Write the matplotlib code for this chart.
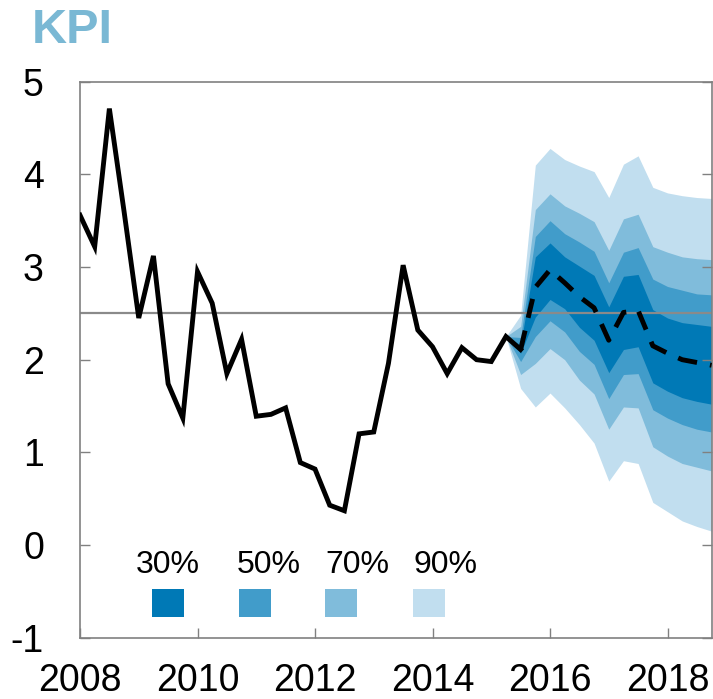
import numpy as np
import matplotlib
matplotlib.use("Agg")
import matplotlib.pyplot as plt

plt.rcParams['font.family'] = ['Liberation Sans', 'DejaVu Sans']

# quarterly CPI (KPI), 2008 Q1 - 2015 Q3
hist_start = 2008.0
kpi_hist = [3.56, 3.22, 4.71, 3.60,
            2.45, 3.12, 1.74, 1.37,
            2.95, 2.61, 1.85, 2.22,
            1.39, 1.41, 1.48, 0.89,
            0.82, 0.43, 0.37, 1.20,
            1.22, 1.96, 3.02, 2.32,
            2.14, 1.85, 2.13, 2.00,
            1.98, 2.25, 2.11]

# fan chart, 2015 Q2 - 2018 Q4
fan_start = 2015.25
upper90 = [2.25, 2.48, 4.10, 4.28, 4.16, 4.09, 4.03, 3.75, 4.11, 4.20, 3.86, 3.80, 3.77, 3.75, 3.74]
upper70 = [2.25, 2.36, 3.62, 3.79, 3.66, 3.58, 3.49, 3.18, 3.52, 3.57, 3.22, 3.16, 3.11, 3.09, 3.08]
upper50 = [2.25, 2.24, 3.33, 3.50, 3.36, 3.27, 3.17, 2.83, 3.16, 3.21, 2.87, 2.79, 2.75, 2.71, 2.70]
upper30 = [2.25, 2.16, 3.11, 3.26, 3.11, 3.01, 2.91, 2.57, 2.90, 2.92, 2.54, 2.45, 2.40, 2.38, 2.36]
median  = [2.25, 2.11, 2.78, 2.97, 2.83, 2.68, 2.56, 2.21, 2.51, 2.53, 2.15, 2.07, 2.00, 1.97, 1.94]
lower30 = [2.25, 2.07, 2.46, 2.65, 2.55, 2.35, 2.21, 1.86, 2.11, 2.14, 1.75, 1.66, 1.59, 1.55, 1.52]
lower50 = [2.25, 1.98, 2.25, 2.42, 2.30, 2.09, 1.95, 1.58, 1.84, 1.85, 1.46, 1.37, 1.30, 1.25, 1.22]
lower70 = [2.25, 1.84, 1.96, 2.12, 2.00, 1.78, 1.63, 1.25, 1.49, 1.48, 1.06, 0.96, 0.88, 0.84, 0.80]
lower90 = [2.25, 1.69, 1.49, 1.64, 1.48, 1.30, 1.10, 0.69, 0.91, 0.88, 0.46, 0.36, 0.26, 0.20, 0.15]

inflation_target = 2.5
band_labels = ['30%', '50%', '70%', '90%']
band_colors = ['#0079b6', '#419cca', '#80bcdb', '#c1deef']
year_ticks = [2008, 2010, 2012, 2014, 2016, 2018]
y_ticks = [-1, 0, 1, 2, 3, 4, 5]


def main():
    x_hist = hist_start + 0.25 * np.arange(len(kpi_hist))
    x_fan = fan_start + 0.25 * np.arange(len(median))

    fig = plt.figure(figsize=(7.13, 6.99), dpi=100)
    ax = fig.add_axes([0.1122, 0.0877, 0.8858, 0.7954])

    # widest band first so the narrow ones sit on top
    bands = [(lower90, upper90), (lower70, upper70), (lower50, upper50), (lower30, upper30)]
    for (lo, hi), col in zip(bands, band_colors[::-1]):
        ax.fill_between(x_fan, lo, hi, color=col, lw=0, zorder=1)

    ax.axhline(inflation_target, color='#8a8a8a', lw=1.6, zorder=2)

    ax.plot(x_hist, kpi_hist, color='black', lw=3.5, solid_joinstyle='miter', zorder=3)
    ax.plot(x_fan[1:], median[1:], color='black', lw=3.5, dashes=(4, 2.7), zorder=3)

    # legend drawn by hand: labels over small squares
    label_x = [2008.95, 2010.67, 2012.17, 2013.67]
    swatch_x = [2009.23, 2010.71, 2012.17, 2013.66]
    for lab, lx, sx, col in zip(band_labels, label_x, swatch_x, band_colors):
        ax.text(lx, -0.30, lab, fontsize=23, ha='left', va='baseline', zorder=4)
        ax.add_patch(plt.Rectangle((sx, -0.775), 0.545, 0.30, color=col, lw=0, zorder=4))

    ax.set_xlim(2008, 2018.75)
    ax.set_ylim(-1, 5)
    ax.set_xticks(year_ticks)
    ax.set_xticklabels([str(y) for y in year_ticks])
    ax.set_yticks(y_ticks)
    ax.set_yticklabels([str(v) for v in y_ticks])

    for side in ['left', 'right', 'top', 'bottom']:
        ax.spines[side].set_color('#808080')
        ax.spines[side].set_linewidth(1.2)
    ax.tick_params(axis='y', direction='in', length=7.5, width=1, color='#808080',
                   right=True, labelsize=27, pad=26)
    ax.tick_params(axis='x', direction='in', length=7.5, width=1, color='#808080',
                   labelsize=27, pad=18.5)

    fig.text(0.045, 1 - 43 / 699, 'KPI', fontsize=35, fontweight='bold',
             color='#7ab8d4', ha='left', va='baseline')

    fig.savefig('out.png', dpi=100)


if __name__ == "__main__":
    main()
